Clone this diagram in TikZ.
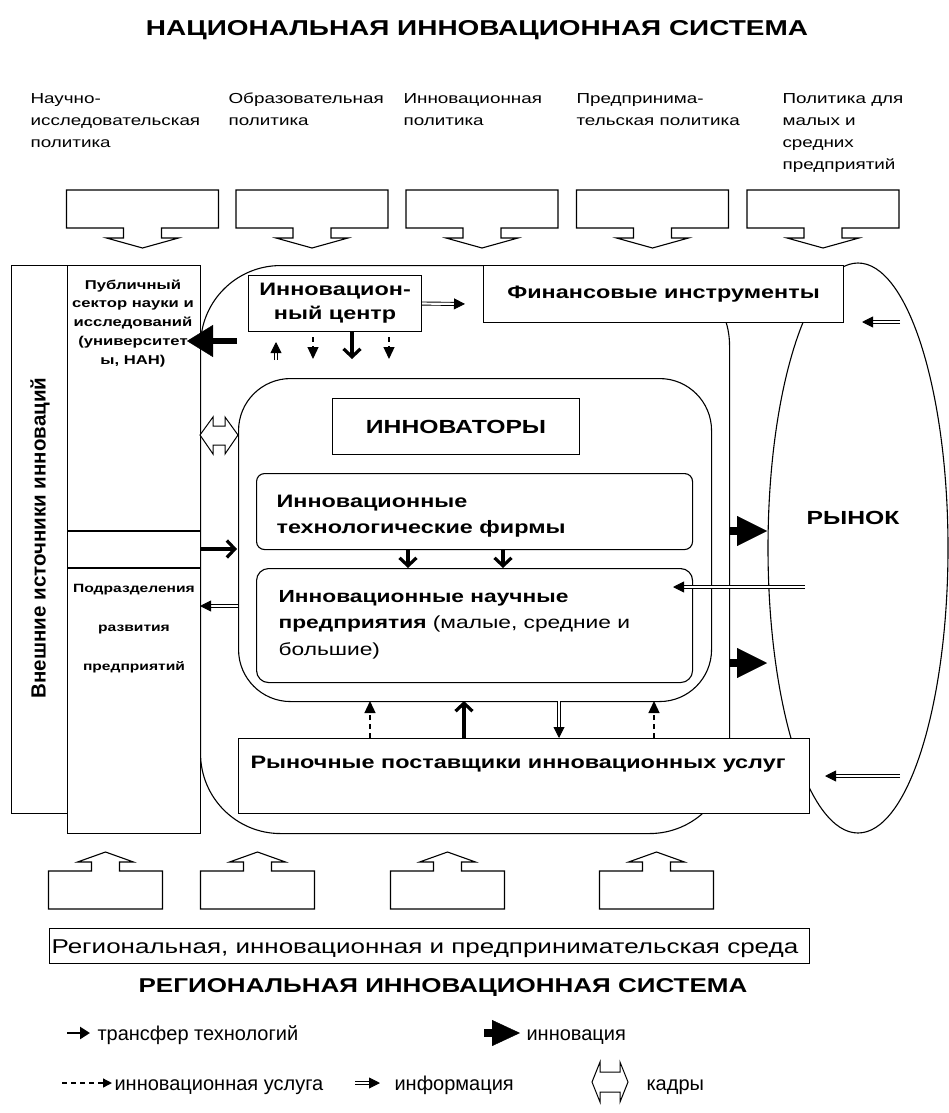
\documentclass[tikz,border=0pt]{standalone}
\usepackage{fontspec}
\setmainfont{Liberation Sans}[FakeStretch=1.3]
\newfontfamily\plainf{Liberation Sans}
\usetikzlibrary{arrows.meta,shapes.geometric}
\newcommand{\myfs}[2]{\fontsize{#1}{#2}\selectfont}
\newcommand{\pdown}[1]{\draw[fill=white] (#1-76,190) -- (#1+76,190) -- (#1+76,228) -- (#1+19,228) -- (#1+19,238) -- (#1+36,238) -- (#1,248) -- (#1-36,238) -- (#1-19,238) -- (#1-19,228) -- (#1-76,228) -- cycle;}
\newcommand{\pup}[1]{\draw[fill=white] (#1-57,909) -- (#1+57,909) -- (#1+57,871) -- (#1+14,871) -- (#1+14,862) -- (#1+28,862) -- (#1,852) -- (#1-28,862) -- (#1-14,862) -- (#1-14,871) -- (#1-57,871) -- cycle;}
\begin{document}
\begin{tikzpicture}[x=1pt,y=-1pt,line width=1.1pt,
  box/.style={draw,fill=white,inner sep=0pt,anchor=north west},
  txt/.style={inner sep=0pt},
  transfer/.style={line width=3.5pt,-{Straight Barb[length=8pt,width=17pt,line width=3.2pt]}},
  info/.style={double,double distance=2.2pt,line width=0.9pt,-{Triangle[length=11pt,width=11pt]}},
  svc/.style={line width=1.3pt,dash pattern=on 5pt off 4pt,-{Triangle[length=12pt,width=11pt]}},
  innov/.style={line width=8pt,-{Triangle[length=30pt,width=30pt,line width=0.4pt]}},
  kadry/.style={draw,fill=white,line width=1pt}
]
\useasboundingbox (0,0) rectangle (949,1113);
\fill[white] (0,0) rectangle (949,1113);

% title
\node[txt,anchor=base] (title) at (477,36) {\myfs{21.5}{26}\bfseries НАЦИОНАЛЬНАЯ ИННОВАЦИОННАЯ СИСТЕМА};

% policies (base = last line)
\node[txt,anchor=base west,align=left,font={\myfs{14.5}{21.7}}] (p1) at (30,147.4) {Научно-\\исследовательская\\политика};
\node[txt,anchor=base west,align=left,font={\myfs{14.5}{21.7}}] (p2) at (228,125.7) {Образовательная\\политика};
\node[txt,anchor=base west,align=left,font={\myfs{14.5}{21.7}}] (p3) at (403,125.7) {Инновационная\\политика};
\node[txt,anchor=base west,align=left,font={\myfs{14.5}{21.7}}] (p4) at (576,125.7) {Предпринима-\\тельская политика};
\node[txt,anchor=base west,align=left,font={\myfs{14.5}{21.7}}] (p5) at (782,169.1) {Политика для\\малых и\\средних\\предприятий};

\pdown{142.5}\pdown{312}\pdown{482}\pdown{652.5}\pdown{823}

% big regions
\node[draw,rounded corners=80pt,minimum width=529pt,minimum height=568pt,anchor=north west,inner sep=0pt] (nis) at (200,265) {};
\node[draw,ellipse,minimum width=180pt,minimum height=570pt,inner sep=0pt] (market) at (858,548) {};
\node[txt,anchor=base,font={\myfs{19}{22}\bfseries}] (marketT) at (853,524) {РЫНОК};

% left columns
\node[box,minimum width=56pt,minimum height=548pt] (ext) at (11,265) {};
\node[box,minimum width=133pt,minimum height=568pt] (col) at (67,265) {};
\draw (67,531) -- (200,531);
\draw (67,568) -- (200,568);
\node[txt,rotate=90,font={\plainf\myfs{20.5}{24}\bfseries}] (extT) at (40,538) {Внешние источники инноваций};
\node[txt,anchor=base,align=center,font={\myfs{12.8}{18.8}\bfseries}] (pub) at (133,364.2) {Публичный\\сектор науки и\\исследований\\(университет\\ы, НАН)};
\node[txt,anchor=base,align=center,font={\myfs{12}{39}\bfseries}] (dev) at (134,670) {Подразделения\\развития\\предприятий};

% boxes
\node[box,minimum width=360pt,minimum height=57pt,font={\myfs{18}{22}\bfseries}] (fin) at (483,265) {Финансовые инструменты};
\node[box,minimum width=173pt,minimum height=56pt,align=center,font={\myfs{18}{24}\bfseries}] (ic) at (248,275) {Инновацион-\\ный центр};
\node[draw,fill=white,rounded corners=52pt,minimum width=473pt,minimum height=323pt,anchor=north west,inner sep=0pt] (inn) at (238,378) {};
\node[box,minimum width=247pt,minimum height=56pt,font={\myfs{19}{22}\bfseries}] (innT) at (332,398) {ИННОВАТОРЫ};
\node[box,rounded corners=8pt,minimum width=436pt,minimum height=76pt] (tech) at (256,473) {};
\node[txt,anchor=base west,align=left,font={\myfs{18}{26}\bfseries}] (techT) at (276,533) {Инновационные\\технологические фирмы};
\node[box,rounded corners=12pt,minimum width=436pt,minimum height=114pt] (sci) at (256,568) {};
\node[txt,anchor=base west,align=left,font={\myfs{17.5}{26.5}}] (sciT) at (278,655) {\textbf{Инновационные научные}\\\textbf{предприятия} (малые, средние и\\большие)};
\node[box,minimum width=571pt,minimum height=75pt] (serv) at (238,738) {};
\node[txt,anchor=base,font={\myfs{18}{22}\bfseries}] (servT) at (518,768) {Рыночные поставщики инновационных услуг};

% bottom
\pup{105.5}\pup{257.5}\pup{447.5}\pup{656.5}
\node[box,minimum width=760pt,minimum height=35pt] (reg) at (49,928) {};
\node[txt,anchor=base west,font={\myfs{20}{24}}] (regT) at (51,953) {Региональная, инновационная и предпринимательская среда};
\node[txt,anchor=base,font={\myfs{20}{24}\bfseries}] (rtitle) at (443,992) {РЕГИОНАЛЬНАЯ ИННОВАЦИОННАЯ СИСТЕМА};

% coordinates
\coordinate (a1s) at (237,341); \coordinate (a1e) at (187,341);
\coordinate (a2e) at (465,304);
\coordinate (a3s) at (276,360); \coordinate (a3e) at (276,342);
\coordinate (a4s) at (313,337); \coordinate (a4e) at (313,359);
\coordinate (a5s) at (352,331); \coordinate (a5e) at (352,359);
\coordinate (a6s) at (389,337); \coordinate (a6e) at (389,359);
\coordinate (b1s) at (200,549); \coordinate (b1e) at (237,549);
\coordinate (b2s) at (238,606); \coordinate (b2e) at (200,606);
\coordinate (c1s) at (408,549); \coordinate (c1e) at (408,568);
\coordinate (c2s) at (503,549); \coordinate (c2e) at (503,568);
\coordinate (d1s) at (370,738); \coordinate (d1e) at (370,701);
\coordinate (d2s) at (464,738); \coordinate (d2e) at (464,701);
\coordinate (d3s) at (559,701); \coordinate (d3e) at (559,738);
\coordinate (d4s) at (654,738); \coordinate (d4e) at (654,701);
\coordinate (m1s) at (729,531); \coordinate (m1e) at (767,531);
\coordinate (m2s) at (729,663); \coordinate (m2e) at (767,663);
\coordinate (m3s) at (805,587); \coordinate (m3e) at (673,587);
\coordinate (m4s) at (900,322); \coordinate (m4e) at (862,322);
\coordinate (m5s) at (900,776); \coordinate (m5e) at (825,776);

\draw[innov,line width=6pt,-{Triangle[length=26pt,width=32pt,line width=0.4pt]}] (a1s) -- (a1e);
\draw[info] (ic.east) -- (a2e);
\draw[info] (a3s) -- (a3e);
\draw[svc] (a4s) -- (a4e);
\draw[transfer] (a5s) -- (a5e);
\draw[svc] (a6s) -- (a6e);
\draw[transfer] (b1s) -- (b1e);
\draw[info] (b2s) -- (b2e);
\draw[transfer] (c1s) -- (c1e);
\draw[transfer] (c2s) -- (c2e);
\draw[svc] (d1s) -- (d1e);
\draw[transfer] (d2s) -- (d2e);
\draw[info] (d3s) -- (d3e);
\draw[svc] (d4s) -- (d4e);
\draw[innov] (m1s) -- (m1e);
\draw[innov] (m2s) -- (m2e);
\draw[info] (m3s) -- (m3e);
\draw[info] (m4s) -- (m4e);
\draw[info] (m5s) -- (m5e);

% kadry arrow
\draw[kadry] (200,435) -- (213,417) -- (213,426) -- (225,426) -- (225,417) -- (238,435) -- (225,454) -- (225,445) -- (213,445) -- (213,454) -- cycle;

% legend
\coordinate (l1s) at (67,1033); \coordinate (l1e) at (90,1033);
\draw[transfer,line width=2.5pt,-{Triangle[length=10pt,width=12pt]}] (l1s) -- (l1e);
\node[txt,anchor=base west,font={\plainf\myfs{20}{24}}] (lg1) at (97,1040) {трансфер технологий};
\coordinate (l2s) at (484,1033); \coordinate (l2e) at (520,1033);
\draw[innov,-{Triangle[length=28pt,width=26pt,line width=0.4pt]}] (l2s) -- (l2e);
\node[txt,anchor=base west,font={\plainf\myfs{20}{24}}] (lg2) at (526,1040) {инновация};
\coordinate (l3s) at (62,1083); \coordinate (l3e) at (112,1083);
\draw[svc,-{Triangle[length=9pt,width=9pt]}] (l3s) -- (l3e);
\node[txt,anchor=base west,font={\plainf\myfs{20}{24}}] (lg3) at (114,1090) {инновационная услуга};
\coordinate (l4s) at (355,1083); \coordinate (l4e) at (380,1083);
\draw[info] (l4s) -- (l4e);
\node[txt,anchor=base west,font={\plainf\myfs{20}{24}}] (lg4) at (394,1090) {информация};
\draw[kadry] (592,1082) -- (600,1062) -- (600,1072) -- (620,1072) -- (620,1062) -- (628,1082) -- (620,1102) -- (620,1092) -- (600,1092) -- (600,1102) -- cycle;
\node[txt,anchor=base west,font={\plainf\myfs{20}{24}}] (lg5) at (646,1090) {кадры};
\end{tikzpicture}
\end{document}
